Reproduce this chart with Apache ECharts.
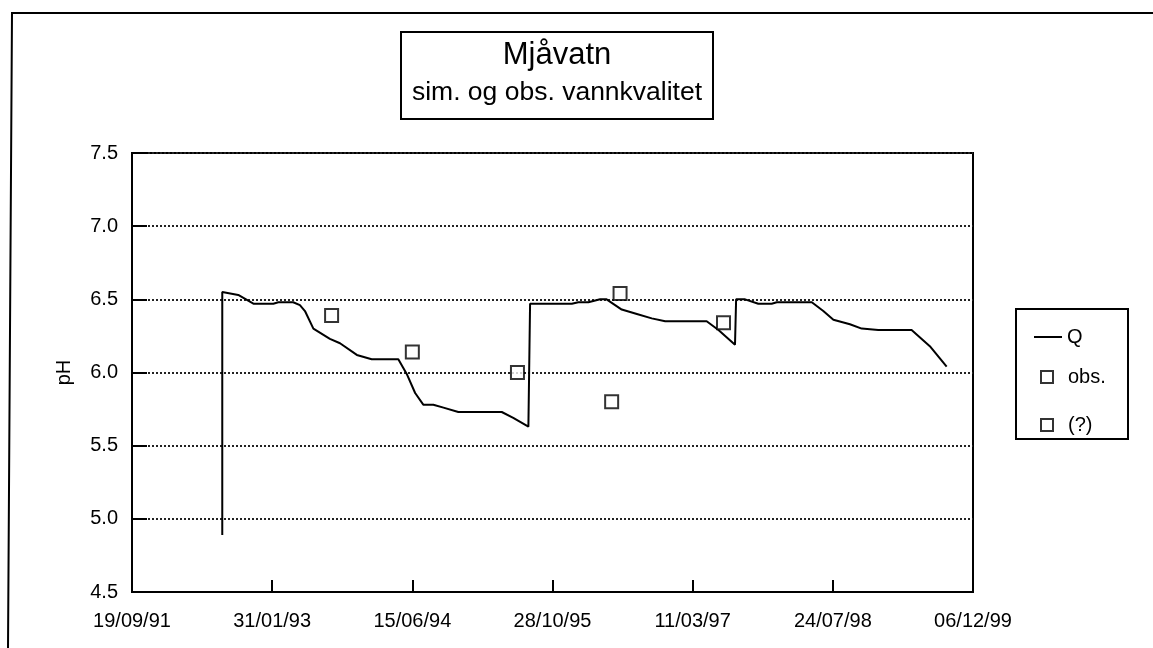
<!DOCTYPE html>
<html>
<head>
<meta charset="utf-8">
<title>Mjåvatn</title>
<script src="https://cdn.jsdelivr.net/npm/echarts@6/dist/echarts.min.js"></script>
<style>
  html, body { margin: 0; padding: 0; background: #fff; }
  #main { width: 1153px; height: 648px; }
</style>
</head>
<body>
<div id="main"></div>
<script>
// x = days after 19/09/91 (ticks every 500 days)
var xTickLabels = ['19/09/91', '31/01/93', '15/06/94', '28/10/95', '11/03/97', '24/07/98', '06/12/99'];
var yTicks = [4.5, 5.0, 5.5, 6.0, 6.5, 7.0, 7.5];

// simulert pH (Q)
var qDays = [322, 322, 379, 433, 504, 522, 575, 599, 617, 647, 706, 742, 802, 855, 950,
  980, 1010, 1039, 1075, 1111, 1164, 1319, 1360, 1414, 1420, 1569, 1592, 1628, 1670, 1693,
  1747, 1801, 1854, 1902, 2050, 2092, 2151, 2155, 2187, 2234, 2282, 2300, 2425, 2466, 2502,
  2561, 2603, 2662, 2781, 2811, 2846, 2906];
var qPh = [4.89, 6.55, 6.53, 6.47, 6.47, 6.48, 6.48, 6.46, 6.42, 6.30, 6.23, 6.20, 6.12, 6.09, 6.09,
  5.99, 5.86, 5.78, 5.78, 5.76, 5.73, 5.73, 5.69, 5.63, 6.47, 6.47, 6.48, 6.48, 6.50, 6.50,
  6.43, 6.40, 6.37, 6.35, 6.35, 6.29, 6.19, 6.50, 6.50, 6.47, 6.47, 6.48, 6.48, 6.42, 6.36,
  6.33, 6.30, 6.29, 6.29, 6.24, 6.18, 6.04];

// observasjoner
var obsDays = [712, 1000, 1375, 1741, 2110];
var obsPh = [6.39, 6.14, 6.00, 6.54, 6.34];
var unkDays = [1711];
var unkPh = [5.80];

function pairs(xs, ys) {
  var out = [];
  for (var i = 0; i < xs.length; i++) out.push([xs[i], ys[i]]);
  return out;
}

var font = 'Liberation Sans, Arial, sans-serif';
var chart = echarts.init(document.getElementById('main'));

var option = {
  backgroundColor: '#fff',
  animation: false,
  grid: {
    left: 132, top: 153, right: 180, bottom: 56,
    show: true, borderColor: '#000', borderWidth: 2
  },
  xAxis: {
    type: 'value',
    min: 0,
    max: 3000,
    interval: 500,
    axisLine: { lineStyle: { color: '#000', width: 2 } },
    axisTick: { inside: true, length: 12, lineStyle: { color: '#000', width: 2 } },
    axisLabel: {
      color: '#000', fontSize: 20, fontFamily: font, margin: 19,
      formatter: function (v) { return xTickLabels[Math.round(v / 500)]; }
    },
    splitLine: { show: false }
  },
  yAxis: {
    type: 'value',
    min: yTicks[0],
    max: yTicks[yTicks.length - 1],
    interval: 0.5,
    name: 'pH',
    nameLocation: 'middle',
    nameGap: 58,
    nameTextStyle: { color: '#000', fontSize: 20, fontFamily: font },
    axisLine: { lineStyle: { color: '#000', width: 2 } },
    axisTick: { inside: true, length: 15, lineStyle: { color: '#000', width: 2 } },
    axisLabel: {
      color: '#000', fontSize: 20, fontFamily: font, margin: 14,
      formatter: function (v) { return v.toFixed(1); }
    },
    splitLine: { show: true, lineStyle: { color: '#222', width: 2, type: [2, 2] } }
  },
  legend: [{
    data: ['Q'],
    icon: 'rect',
    left: 1034, top: 327,
    itemWidth: 28, itemHeight: 2,
    padding: 0,
    textStyle: { color: '#000', fontSize: 20, fontFamily: font }
  }, {
    data: ['obs.', '(?)'],
    orient: 'vertical',
    left: 1040, top: 367,
    itemWidth: 12, itemHeight: 12,
    itemGap: 28,
    padding: 0,
    textStyle: { color: '#000', fontSize: 20, fontFamily: font, padding: [0, 0, 0, 10] }
  }],
  graphic: [
    { type: 'polyline', silent: true, shape: { points: [[8, 648], [12, 13], [1153, 13]] },
      style: { stroke: '#000', lineWidth: 2, fill: null } },
    { type: 'rect', silent: true, shape: { x: 401, y: 32, width: 312, height: 87 },
      style: { stroke: '#000', lineWidth: 2, fill: null } },
    { type: 'text', silent: true, x: 557, y: 55,
      style: { text: 'Mjåvatn', fill: '#000', font: '31px ' + font, textAlign: 'center', textVerticalAlign: 'middle' } },
    { type: 'text', silent: true, x: 557, y: 93,
      style: { text: 'sim. og obs. vannkvalitet', fill: '#000', font: '26.5px ' + font, textAlign: 'center', textVerticalAlign: 'middle' } },
    { type: 'rect', silent: true, shape: { x: 1016, y: 309, width: 112, height: 130 },
      style: { stroke: '#000', lineWidth: 2, fill: null } }
  ],
  series: [{
    name: 'Q',
    type: 'line',
    data: pairs(qDays, qPh),
    symbol: 'none',
    lineStyle: { color: '#000', width: 2 },
    itemStyle: { color: '#000' },
    z: 3
  }, {
    name: 'obs.',
    type: 'scatter',
    data: pairs(obsDays, obsPh),
    symbol: 'rect',
    symbolSize: 13,
    itemStyle: { color: '#fff', borderColor: '#000', borderWidth: 2 },
    z: 4
  }, {
    name: '(?)',
    type: 'scatter',
    data: pairs(unkDays, unkPh),
    symbol: 'rect',
    symbolSize: 13,
    itemStyle: { color: '#fff', borderColor: '#000', borderWidth: 2 },
    z: 4
  }]
};

chart.setOption(option);
</script>
</body>
</html>
